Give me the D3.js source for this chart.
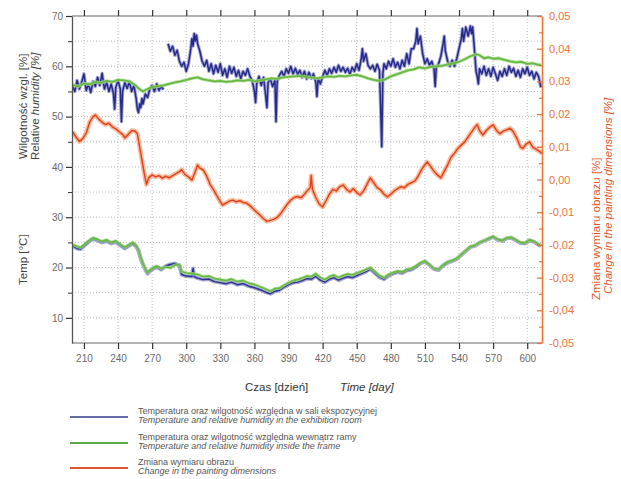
<!DOCTYPE html>
<html>
<head>
<meta charset="utf-8">
<script src="https://cdn.jsdelivr.net/npm/d3@7"></script>
<style>
  body { margin: 0; background: #fff; }
  svg { font-family: Arial, "Liberation Sans", sans-serif; }
</style>
</head>
<body>
<svg width="621" height="479"></svg>
<script>
// days on the x axis
const xTicks = [210, 240, 270, 300, 330, 360, 390, 420, 450, 480, 510, 540, 570, 600]
const leftTicks = [10, 20, 30, 40, 50, 60, 70]
const rightTicks = [-0.05, -0.04, -0.03, -0.02, -0.01, 0, 0.01, 0.02, 0.03, 0.04, 0.05]

// relative humidity in the exhibition room [%] (null = gap in record)
const rhRoom = [
  [200,56.0],[202,55.0],[204,57.2],[206,55.5],[208,56.8],[210,58.5],[212,55.2],[214,56.5],[216,54.8],[218,57.0],
  [220,56.0],[222,57.8],[224,56.2],[226,58.6],[228,55.5],[230,56.8],[232,55.0],[234,56.5],[236,54.5],[237,51.5],
  [238,55.8],[240,57.2],[242,55.5],[243,49.0],[244,55.0],[246,56.8],[248,55.6],[250,57.0],[252,55.0],[254,56.2],
  [256,53.5],[257,51.5],[258,50.8],[259,52.5],[260,51.8],[261,53.6],[262,52.5],[264,54.5],[266,53.8],[268,55.5],
  [270,56.2],[272,55.0],[274,56.5],[276,55.2],[278,56.0],[280,55.4],[282,null],
  [284,64.5],[286,63.0],[288,64.0],[290,62.2],[292,63.2],[294,61.0],[296,60.0],[298,60.8],[300,59.0],[302,60.5],
  [304,63.5],[305,65.5],[306,64.0],[307,66.5],[308,65.0],[309,66.2],[310,64.5],[312,63.0],[314,61.0],[316,60.0],
  [318,61.2],[320,59.0],[322,60.5],[324,58.5],[326,60.2],[328,58.8],[330,60.5],[332,58.2],[334,59.5],[336,57.8],
  [338,60.0],[340,58.6],[342,59.8],[344,58.0],[346,59.2],[348,57.5],[350,59.0],[352,58.2],[354,59.5],[356,58.0],
  [358,57.2],[360,55.0],[361,52.8],[362,56.5],[364,58.0],[366,56.2],[368,57.8],[370,54.0],[371,51.8],[372,56.8],
  [374,57.5],[376,56.0],[378,57.2],[379,49.0],[380,57.0],[382,58.2],[384,59.0],[386,58.0],[388,59.5],[390,58.6],
  [392,60.0],[394,58.5],[396,59.6],[398,58.4],[400,59.2],[402,57.8],[404,59.0],[406,57.5],[408,58.8],[410,57.6],
  [412,58.5],[414,56.8],[415,54.0],[416,57.5],[418,56.5],[420,58.0],[422,59.2],[424,58.2],[426,59.5],[428,58.6],
  [430,59.8],[432,58.8],[434,60.2],[436,59.0],[438,59.8],[440,58.8],[442,59.6],[444,58.4],[446,59.8],[448,59.0],
  [450,60.5],[452,59.2],[454,61.5],[455,63.5],[456,61.0],[458,62.5],[460,60.2],[462,59.5],[464,60.2],[466,59.0],
  [468,60.4],[470,59.2],[471,52.0],[472,44.0],[473,58.5],[474,60.5],[476,59.5],[478,61.0],[480,60.0],[482,61.5],
  [484,59.8],[486,60.8],[488,59.5],[490,61.2],[492,60.0],[494,62.5],[496,60.5],[498,63.5],[500,63.5],[502,65.0],
  [503,67.5],[504,64.5],[506,66.0],[508,62.5],[510,60.5],[512,61.5],[514,60.2],[516,61.0],[518,59.5],[519,56.0],
  [520,59.8],[522,60.5],[524,62.0],[526,64.5],[527,66.0],[528,63.0],[530,61.0],[532,60.0],[534,61.2],[536,60.0],
  [538,61.5],[540,63.5],[542,65.5],[543,67.5],[544,65.0],[546,67.8],[548,66.0],[550,68.0],[551,66.5],[552,67.8],
  [553,65.0],[554,62.0],[555,59.0],[556,58.0],[557,56.5],[558,59.5],[560,58.5],[562,60.0],[564,58.2],[566,59.5],
  [568,58.0],[570,59.8],[572,58.5],[574,57.2],[576,59.0],[578,58.0],[580,59.5],[582,58.2],[584,60.0],[586,58.8],
  [588,59.6],[590,58.0],[592,59.2],[594,57.8],[596,59.5],[598,58.5],[600,59.8],[602,58.2],[604,59.0],[606,57.5],
  [608,58.8],[610,58.0],[612,55.8]
]

// relative humidity inside the frame [%]
const rhFrame = [
  [200,56.3],[205,56.0],[210,56.6],[215,56.4],[220,56.9],[225,56.7],[230,57.1],[235,56.9],[240,57.3],[245,57.2],
  [250,57.0],[255,56.3],[258,55.6],[262,55.0],[265,55.4],[270,55.9],[275,56.0],[280,56.2],[285,56.5],[290,56.8],
  [295,57.0],[300,57.3],[305,57.6],[310,57.8],[315,57.4],[320,57.2],[325,57.0],[330,57.1],[335,56.9],[340,57.0],
  [345,57.2],[350,57.1],[355,57.3],[360,57.0],[365,57.2],[370,57.4],[375,57.6],[380,57.5],[385,57.8],[390,57.9],
  [395,58.0],[400,58.1],[405,57.9],[410,57.8],[415,57.6],[420,57.8],[425,58.0],[430,57.9],[435,58.1],[440,58.0],
  [445,58.2],[450,58.3],[455,58.0],[460,57.6],[465,57.3],[470,57.1],[475,57.4],[480,58.0],[485,58.4],[490,58.8],
  [495,59.2],[500,59.4],[505,59.8],[510,59.6],[515,59.9],[520,60.0],[525,60.1],[530,60.4],[535,60.6],[540,60.9],
  [545,61.4],[550,62.0],[555,62.4],[558,62.2],[562,61.6],[566,61.8],[570,61.5],[575,61.6],[580,61.3],[585,61.0],
  [590,60.8],[595,60.9],[600,60.5],[605,60.6],[610,60.3],[612,60.3]
]

// temperature in the exhibition room [°C]
const tempRoom = [
  [200,24.3],[204,23.8],[207,23.7],[210,24.3],[214,25.1],[218,25.7],[222,25.4],[226,25.0],[230,25.3],[234,24.8],
  [238,25.1],[242,24.4],[246,23.8],[250,24.4],[253,24.8],[256,24.2],[258,23.3],[260,21.8],[262,20.6],[264,19.6],
  [266,18.8],[268,19.3],[271,19.8],[274,20.1],[278,19.6],[282,20.3],[286,20.6],[290,20.8],[294,20.4],[296,18.6],
  [300,18.3],[305,18.2],[306,19.8],[307,18.2],[310,17.9],[315,17.6],[320,17.7],[325,17.2],[330,17.0],[335,16.8],
  [340,17.1],[345,16.6],[350,16.8],[355,16.3],[360,16.0],[365,15.6],[370,15.1],[374,14.8],[378,15.3],[382,15.5],
  [386,16.1],[390,16.6],[394,17.0],[398,17.1],[402,17.4],[406,17.8],[410,17.7],[414,18.3],[418,17.5],[422,17.1],
  [426,17.7],[430,18.0],[434,17.5],[438,17.9],[442,18.2],[446,18.0],[450,18.4],[454,18.8],[458,19.2],[462,19.7],
  [466,18.9],[470,18.1],[474,17.7],[478,18.4],[482,18.8],[486,19.1],[490,18.9],[494,19.4],[498,19.6],[502,20.1],
  [506,20.8],[510,21.2],[514,20.5],[518,19.7],[522,19.5],[526,20.4],[530,21.0],[534,21.3],[538,21.7],[542,22.5],
  [546,23.3],[550,24.1],[554,24.3],[558,24.9],[562,25.3],[566,25.7],[570,26.1],[574,25.5],[578,25.3],[582,25.8],
  [586,25.9],[590,25.4],[594,24.9],[598,24.8],[602,25.4],[606,25.1],[610,24.5],[612,24.3]
]

// temperature inside the frame [°C]
const tempFrame = [
  [200,24.6],[204,24.2],[207,24.0],[210,24.5],[214,25.3],[218,25.9],[222,25.6],[226,25.2],[230,25.5],[234,25.0],
  [238,25.3],[242,24.6],[246,24.0],[250,24.6],[253,25.0],[256,24.4],[258,23.5],[260,22.0],[262,20.8],[264,19.8],
  [266,19.0],[268,19.5],[271,20.0],[274,20.3],[278,19.8],[282,20.1],[286,19.9],[290,20.5],[294,20.6],[296,19.2],
  [300,18.9],[305,18.8],[310,18.6],[315,18.2],[320,18.3],[325,17.8],[330,17.6],[335,17.4],[340,17.7],[345,17.2],
  [350,17.4],[355,16.9],[360,16.6],[365,16.2],[370,15.7],[374,15.3],[378,15.8],[382,15.9],[386,16.5],[390,17.0],
  [394,17.4],[398,17.6],[402,17.9],[406,18.3],[410,18.2],[414,18.8],[418,18.0],[422,17.6],[426,18.2],[430,18.5],
  [434,18.0],[438,18.4],[442,18.7],[446,18.5],[450,18.9],[454,19.2],[458,19.6],[462,20.0],[466,19.2],[470,18.4],
  [474,18.0],[478,18.6],[482,19.0],[486,19.3],[490,19.1],[494,19.6],[498,19.8],[502,20.3],[506,20.9],[510,21.3],
  [514,20.6],[518,19.8],[522,19.6],[526,20.5],[530,21.1],[534,21.4],[538,21.8],[542,22.6],[546,23.4],[550,24.2],
  [554,24.4],[558,25.0],[562,25.3],[566,25.8],[570,26.2],[574,25.6],[578,25.4],[582,25.9],[586,26.0],[590,25.5],
  [594,25.0],[598,24.9],[602,25.5],[606,25.2],[610,24.6],[612,24.4]
]

// change in the painting dimensions [%] (right axis)
const dimChange = [
  [200,0.0146],[203,0.0130],[206,0.0116],[209,0.0125],[212,0.0142],[215,0.0175],[218,0.0192],[220,0.0197],[223,0.0185],
  [226,0.0175],[229,0.0168],[232,0.0172],[235,0.0161],[238,0.0155],[241,0.0146],[244,0.0138],[246,0.0127],[249,0.0138],
  [252,0.0150],[255,0.0148],[257,0.0140],[259,0.0100],[261,0.0060],[263,0.0020],[265,-0.0015],[267,0.0005],[270,0.0014],
  [273,0.0008],[276,0.0012],[279,0.0004],[282,0.0010],[285,0.0005],[288,0.0012],[291,0.0018],[294,0.0024],[296,0.0030],
  [299,0.0015],[302,0.0008],[305,-0.0002],[308,0.0025],[310,0.0044],[312,0.0035],[315,0.0029],[318,0.0010],[321,-0.0015],
  [324,-0.0032],[327,-0.0050],[330,-0.0068],[332,-0.0078],[335,-0.0072],[338,-0.0066],[341,-0.0063],[344,-0.0068],
  [347,-0.0065],[350,-0.0070],[353,-0.0072],[356,-0.0080],[359,-0.0090],[362,-0.0100],[365,-0.0109],[368,-0.0120],
  [371,-0.0128],[374,-0.0125],[377,-0.0122],[380,-0.0116],[383,-0.0105],[386,-0.0090],[389,-0.0075],[392,-0.0063],
  [395,-0.0055],[398,-0.0052],[401,-0.0056],[404,-0.0045],[407,-0.0032],[409,-0.0026],[410,0.0012],[411,-0.0030],
  [414,-0.0055],[417,-0.0075],[420,-0.0084],[423,-0.0065],[426,-0.0045],[429,-0.0030],[432,-0.0035],[435,-0.0022],
  [438,-0.0017],[441,-0.0030],[444,-0.0038],[447,-0.0028],[450,-0.0040],[453,-0.0047],[456,-0.0035],[459,-0.0015],
  [462,0.0005],[465,-0.0010],[468,-0.0025],[471,-0.0032],[474,-0.0045],[477,-0.0053],[480,-0.0045],[483,-0.0035],
  [486,-0.0028],[489,-0.0022],[492,-0.0025],[495,-0.0015],[498,-0.0010],[501,-0.0005],[504,0.0010],[507,0.0030],
  [510,0.0045],[512,0.0054],[515,0.0040],[518,0.0025],[521,0.0014],[524,0.0005],[527,0.0025],[530,0.0045],[533,0.0068],
  [536,0.0080],[539,0.0095],[542,0.0105],[545,0.0115],[548,0.0130],[551,0.0145],[554,0.0160],[556,0.0168],[558,0.0150],
  [561,0.0136],[564,0.0150],[567,0.0160],[570,0.0167],[573,0.0150],[576,0.0140],[579,0.0148],[582,0.0152],[585,0.0157],
  [588,0.0145],[591,0.0125],[594,0.0100],[596,0.0095],[599,0.0108],[602,0.0115],[605,0.0098],[608,0.0092],[611,0.0085],
  [613,0.0080]
]

const legendItems = [
  {color: '#6a6aa8', pl: 'Temperatura oraz wilgotność względna w sali ekspozycyjnej', en: 'Temperature and relative humidity in the exhibition room'},
  {color: '#5aaa48', pl: 'Temperatura oraz wilgotność względna wewnątrz ramy', en: 'Temperature and relative humidity inside the frame'},
  {color: '#e5502e', pl: 'Zmiana wymiaru obrazu', en: 'Change in the painting dimensions'}
]

const svg = d3.select('svg')
const pLeft = 72, pRight = 542, pTop = 16, pBottom = 343
const orange = '#ee7438'

let x = d3.scaleLinear().domain([199.5, 613]).range([pLeft, pRight])
let yL = d3.scaleLinear().domain([5, 70]).range([pBottom, pTop])
let yR = d3.scaleLinear().domain([-0.05, 0.05]).range([pBottom, pTop])

svg.append('defs').append('clipPath').attr('id', 'plot')
  .append('rect').attr('x', pLeft).attr('y', pTop).attr('width', pRight - pLeft).attr('height', pBottom - pTop)

// dotted grid
let grid = svg.append('g').attr('stroke', '#bdbdbd').attr('stroke-dasharray', '1,2').attr('stroke-width', 1)
xTicks.forEach(t => {
  grid.append('line').attr('x1', x(t)).attr('x2', x(t)).attr('y1', pTop).attr('y2', pBottom)
})
d3.range(10, 70, 5).forEach(t => {
  grid.append('line').attr('x1', pLeft).attr('x2', pRight).attr('y1', yL(t)).attr('y2', yL(t))
})

function lineL(data) {
  return d3.line().defined(d => d[1] != null).x(d => x(d[0])).y(d => yL(d[1]))(data)
}
function lineR(data) {
  return d3.line().x(d => x(d[0])).y(d => yR(d[1]))(data)
}

let plot = svg.append('g').attr('clip-path', 'url(#plot)').attr('fill', 'none')
  .attr('stroke-linejoin', 'round')

function drawSeries(path, halo, core, haloW, coreW) {
  plot.append('path').attr('d', path).attr('stroke', halo).attr('stroke-width', haloW).attr('opacity', 0.8)
  plot.append('path').attr('d', path).attr('stroke', core).attr('stroke-width', coreW)
}

drawSeries(lineR(dimChange), '#f6ab88', '#e2451d', 4.6, 1.5)
drawSeries(lineL(tempRoom), '#8d90c8', '#2d3190', 4, 1.5)
drawSeries(lineL(tempFrame), '#a9d98d', '#68b944', 3.2, 1.6)
drawSeries(lineL(rhRoom), '#8d90c8', '#262a88', 3.4, 1.5)
drawSeries(lineL(rhFrame), '#a9d98d', '#68b944', 3.4, 1.8)

// frame lines
svg.append('line').attr('x1', pLeft).attr('x2', pRight).attr('y1', pTop).attr('y2', pTop)
  .attr('stroke', '#9a9a9a').attr('stroke-width', 1.5)
svg.append('line').attr('x1', pLeft).attr('x2', pRight).attr('y1', pBottom).attr('y2', pBottom)
  .attr('stroke', '#9a9a9a').attr('stroke-width', 1.5)

// bottom axis
let xAxis = svg.append('g').attr('transform', `translate(0,${pBottom})`)
  .call(d3.axisBottom(x).tickValues(xTicks).tickSize(6).tickSizeOuter(0).tickPadding(6))
xAxis.select('.domain').remove()
xAxis.selectAll('line').attr('stroke', '#333').attr('stroke-width', 1.2)
xAxis.selectAll('text').attr('fill', '#6a6a6a').attr('font-size', 10).attr('font-family', 'Arial, Liberation Sans, sans-serif')

// top ticks
let xTop = svg.append('g').attr('transform', `translate(0,${pTop})`)
  .call(d3.axisTop(x).tickValues(xTicks).tickSize(6).tickSizeOuter(0).tickFormat(''))
xTop.select('.domain').remove()
xTop.selectAll('line').attr('stroke', '#333').attr('stroke-width', 1.2)

// left axis
let yAxisL = svg.append('g').attr('transform', `translate(${pLeft},0)`)
  .call(d3.axisLeft(yL).tickValues(leftTicks).tickSize(6).tickSizeOuter(0).tickPadding(3))
yAxisL.select('.domain').attr('stroke', '#555').attr('stroke-width', 1.3)
yAxisL.selectAll('line').attr('stroke', '#333').attr('stroke-width', 1.2)
yAxisL.selectAll('text').attr('fill', '#6a6a6a').attr('font-size', 10).attr('font-family', 'Arial, Liberation Sans, sans-serif')
let yMinorL = svg.append('g').attr('transform', `translate(${pLeft},0)`)
  .call(d3.axisLeft(yL).tickValues(d3.range(15, 70, 10)).tickSize(4).tickFormat(''))
yMinorL.select('.domain').remove()
yMinorL.selectAll('line').attr('stroke', '#333')

// right axis
let fmtR = d => d.toFixed(2).replace('.', ',')
let yAxisR = svg.append('g').attr('transform', `translate(${pRight},0)`)
  .call(d3.axisRight(yR).tickValues(rightTicks).tickSize(-5).tickSizeOuter(0).tickPadding(12).tickFormat(d => fmtR(Math.abs(d) < 1e-9 ? 0 : d)))
yAxisR.select('.domain').attr('stroke', orange).attr('stroke-width', 1.6)
yAxisR.selectAll('line').attr('stroke', orange).attr('stroke-width', 1.3)
yAxisR.selectAll('text').attr('fill', orange).attr('font-size', 11).attr('x', 7)
  .attr('font-family', 'Arial, Liberation Sans, sans-serif')
let yMinorR = svg.append('g').attr('transform', `translate(${pRight},0)`)
  .call(d3.axisRight(yR).tickValues(d3.range(-0.045, 0.05, 0.01)).tickSize(-3).tickFormat(''))
yMinorR.select('.domain').remove()
yMinorR.selectAll('line').attr('stroke', orange).attr('stroke-width', 1.2)

// axis titles
let titles = svg.append('g').attr('font-size', 11.5).attr('fill', '#444')
titles.append('text').attr('transform', 'translate(27,159) rotate(-90)').text('Wilgotność wzgl. [%]')
let rel = titles.append('text').attr('transform', 'translate(39,160) rotate(-90)')
rel.append('tspan').text('Relative ')
rel.append('tspan').attr('font-style', 'italic').text('humidity [%]')
titles.append('text').attr('transform', 'translate(27,285) rotate(-90)').text('Temp [°C]')

let rTitles = svg.append('g').attr('font-size', 11.5).attr('fill', '#e5582c')
rTitles.append('text').attr('transform', 'translate(600,300) rotate(-90)').text('Zmiana wymiaru obrazu [%]')
rTitles.append('text').attr('transform', 'translate(612,294) rotate(-90)').attr('font-style', 'italic')
  .text('Change in the painting dimensions [%]')

svg.append('text').attr('x', 245).attr('y', 391).attr('font-size', 11.5).attr('fill', '#333').text('Czas [dzień]')
svg.append('text').attr('x', 340).attr('y', 391).attr('font-size', 11.5).attr('fill', '#333')
  .attr('font-style', 'italic').text('Time [day]')

// legend
let legend = svg.append('g').attr('font-size', 9).attr('fill', '#555')
legendItems.forEach((d, i) => {
  let ly = [417, 443, 468][i]
  legend.append('line').attr('x1', 70).attr('x2', 128).attr('y1', ly).attr('y2', ly)
    .attr('stroke', d.color).attr('stroke-width', 2)
  legend.append('text').attr('x', 138).attr('y', ly - 3.5).text(d.pl)
  legend.append('text').attr('x', 138).attr('y', ly + 5.5).attr('font-style', 'italic').text(d.en)
})
</script>
</body>
</html>
